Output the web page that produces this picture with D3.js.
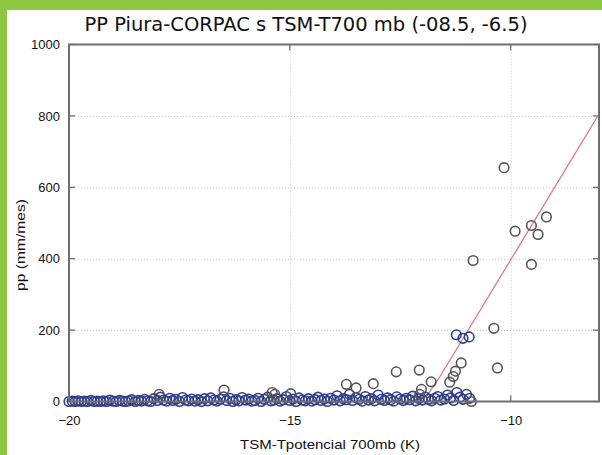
<!DOCTYPE html>
<html><head><meta charset="utf-8">
<script src="https://cdn.jsdelivr.net/npm/d3@7"></script>
<style>
html,body{margin:0;padding:0;background:#fff;overflow:hidden;}
svg{display:block;background:#fff;}
</style></head>
<body>
<svg id="c" width="602" height="455"></svg>
<script>
const title = "PP Piura-CORPAC s TSM-T700 mb (-08.5, -6.5)";
const xLabel = "TSM-Tpotencial 700mb (K)";
const yLabel = "pp (mm/mes)";
const xTicks = [-20, -15, -10];
const yTicks = [0, 200, 400, 600, 800, 1000];

// near-zero (blue) observations: [x, pp]
const bluePoints = [
  [-20.0,0],[-19.93,1],[-19.86,0],[-19.79,2],[-19.72,0],[-19.65,1],[-19.58,0],[-19.5,3],[-19.43,0],[-19.36,1],
  [-19.29,0],[-19.22,2],[-19.15,0],[-19.08,4],[-19.0,1],[-18.93,0],[-18.86,3],[-18.79,1],[-18.72,0],[-18.65,2],
  [-18.58,5],[-18.5,0],[-18.43,3],[-18.36,1],[-18.29,6],[-18.22,2],[-18.15,0],[-18.08,8],[-18.0,3],[-17.93,12],
  [-17.86,4],[-17.79,1],[-17.72,9],[-17.65,3],[-17.58,6],[-17.5,0],[-17.43,11],[-17.36,4],[-17.29,2],[-17.22,7],
  [-17.15,1],[-17.08,5],[-17.0,0],[-16.93,8],[-16.86,2],[-16.79,10],[-16.72,4],[-16.65,1],[-16.58,6],[-16.5,13],
  [-16.43,3],[-16.36,9],[-16.29,0],[-16.22,5],[-16.15,2],[-16.08,11],[-16.0,4],[-15.93,7],[-15.86,1],[-15.79,3],
  [-15.72,9],[-15.65,0],[-15.58,6],[-15.5,12],[-15.43,2],[-15.36,4],[-15.29,8],[-15.22,1],[-15.15,5],[-15.08,14],
  [-15.0,3],[-14.93,7],[-14.86,0],[-14.79,10],[-14.72,4],[-14.65,2],[-14.58,8],[-14.5,1],[-14.43,5],[-14.36,12],
  [-14.29,3],[-14.22,7],[-14.15,0],[-14.08,9],[-14.0,4],[-13.93,16],[-13.86,2],[-13.79,8],[-13.72,5],[-13.65,20],
  [-13.58,3],[-13.5,11],[-13.43,6],[-13.36,1],[-13.29,14],[-13.22,4],[-13.15,8],[-13.08,2],[-13.0,18],[-12.93,6],
  [-12.86,3],[-12.79,10],[-12.72,5],[-12.65,1],[-12.58,13],[-12.5,7],[-12.43,3],[-12.36,9],[-12.29,5],[-12.22,15],
  [-12.15,2],[-12.08,8],[-12.0,4],[-11.93,12],[-11.86,6],[-11.79,2],[-11.72,9],[-11.65,14],[-11.58,4],[-11.5,7],
  [-11.43,18],[-11.36,10],[-11.29,3],[-11.22,25],[-11.15,12],[-11.08,6],[-11.0,20],[-10.93,9],
  [-11.23,187],[-11.08,177],[-10.94,181]
];
// other (dark) observations: [x, pp]
const darkPoints = [
  [-10.15,655],[-9.19,517],[-9.53,493],[-9.38,468],[-9.90,477],[-10.85,395],[-9.53,384],[-10.38,205],
  [-10.30,94],[-11.12,108],[-11.25,85],[-11.3,70],[-11.38,54],[-11.8,55],[-12.02,34],[-12.06,20],
  [-12.59,83],[-12.07,88],[-13.11,50],[-13.72,48],[-13.5,38],[-10.89,0],[-15.34,20],[-14.98,22],
  [-16.49,32],[-17.96,20],[-15.4,25]
];
// fitted curve
const fitLine = [[-20,0],[-12.2,0],[-11.9,15],[-11.6,70],[-8,805]];

const svg = d3.select("#c");
const W = 602, H = 455;
svg.append("rect").attr("x", 0).attr("y", 0).attr("width", 7).attr("height", H).attr("fill", "#8dc63f");
svg.append("rect").attr("x", 0).attr("y", 0).attr("width", W).attr("height", 10).attr("fill", "#8dc63f");

const L = 69, R = 599, T = 44.5, B = 401.5;
const x = d3.scaleLinear().domain([-20, -8]).range([L, R]);
const y = d3.scaleLinear().domain([0, 1000]).range([B, T]);

// grid
const grid = svg.append("g");
grid.append("g").attr("transform", `translate(0,${B})`)
  .call(d3.axisBottom(x).tickValues(xTicks.filter(v => v > -20)).tickSize(-(B - T)).tickFormat(""))
  .call(g => g.select(".domain").remove())
  .call(g => g.selectAll("line").attr("stroke", "#c4c4c4").attr("stroke-dasharray", "1,2"));
grid.append("g").attr("transform", `translate(${L},0)`)
  .call(d3.axisLeft(y).tickValues(yTicks.filter(v => v > 0 && v < 1000)).tickSize(-(R - L)).tickFormat(""))
  .call(g => g.select(".domain").remove())
  .call(g => g.selectAll("line").attr("stroke", "#c4c4c4").attr("stroke-dasharray", "1,2"));

// inner tick marks
const tk = svg.append("g").attr("stroke", "#666").attr("stroke-width", 1.2);
yTicks.forEach(v => {
  tk.append("line").attr("x1", L).attr("x2", L + 6).attr("y1", y(v)).attr("y2", y(v));
  tk.append("line").attr("x1", R - 6).attr("x2", R).attr("y1", y(v)).attr("y2", y(v));
});
xTicks.forEach(v => {
  tk.append("line").attr("x1", x(v)).attr("x2", x(v)).attr("y1", B).attr("y2", B - 6);
  tk.append("line").attr("x1", x(v)).attr("x2", x(v)).attr("y1", T).attr("y2", T + 6);
});

// fitted line
svg.append("clipPath").attr("id", "pc").append("rect")
  .attr("x", L).attr("y", T).attr("width", R - L).attr("height", B - T + 6);
svg.append("path").datum(fitLine)
  .attr("clip-path", "url(#pc)")
  .attr("fill", "none").attr("stroke", "#e07a80").attr("stroke-width", 1.3)
  .attr("d", d3.line().x(d => x(d[0])).y(d => y(d[1])));

// points
svg.append("g").selectAll("circle").data(bluePoints).join("circle")
  .attr("cx", d => x(d[0])).attr("cy", d => y(d[1])).attr("r", 4.8)
  .attr("fill", "none").attr("stroke", "#2e3c8c").attr("stroke-width", 1.6);
svg.append("g").selectAll("circle").data(darkPoints).join("circle")
  .attr("cx", d => x(d[0])).attr("cy", d => y(d[1])).attr("r", 4.8)
  .attr("fill", "none").attr("stroke", "#555").attr("stroke-width", 1.6);

// frame
svg.append("rect").attr("x", L).attr("y", T).attr("width", R - L).attr("height", B - T)
  .attr("fill", "none").attr("stroke", "#6e6e6e").attr("stroke-width", 2);

// axis labels
const fam = "Liberation Sans, Arial, sans-serif";
const yAx = svg.append("g").attr("transform", `translate(${L - 9},0)`)
  .call(d3.axisLeft(y).tickValues(yTicks).tickSize(0).tickPadding(0).tickFormat(d3.format("d")));
yAx.select(".domain").remove();
yAx.selectAll("text").attr("font-family", fam).attr("font-size", 13).attr("fill", "#111");

const xAx = svg.append("g").attr("transform", `translate(0,${B + 14})`)
  .call(d3.axisBottom(x).tickValues(xTicks).tickSize(0).tickPadding(0));
xAx.select(".domain").remove();
xAx.selectAll("text").attr("font-family", fam).attr("font-size", 13).attr("fill", "#111");

svg.append("text").attr("x", 330).attr("y", 449).attr("text-anchor", "middle")
  .attr("font-family", fam).attr("font-size", 13).attr("fill", "#111")
  .attr("textLength", 180).attr("lengthAdjust", "spacingAndGlyphs")
  .text(xLabel);
svg.append("text").attr("transform", "translate(25,245) rotate(-90)").attr("text-anchor", "middle")
  .attr("font-family", fam).attr("font-size", 13).attr("fill", "#111")
  .attr("textLength", 92).attr("lengthAdjust", "spacingAndGlyphs")
  .text(yLabel);
svg.append("text").attr("x", 306).attr("y", 31).attr("text-anchor", "middle")
  .attr("font-family", "DejaVu Sans Condensed, DejaVu Sans, sans-serif").attr("font-size", 19).attr("fill", "#111")
  .attr("textLength", 443).attr("lengthAdjust", "spacingAndGlyphs")
  .text(title);
</script>
</body></html>
